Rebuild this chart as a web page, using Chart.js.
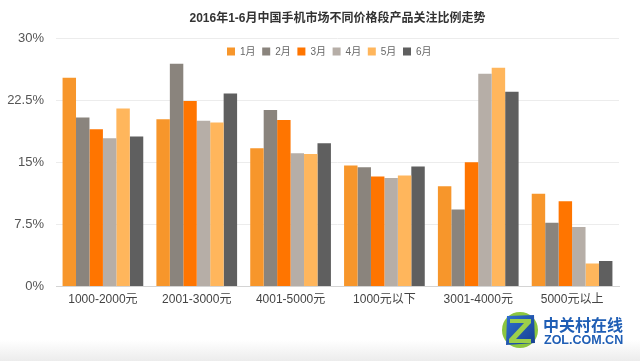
<!DOCTYPE html>
<html>
<head>
<meta charset="utf-8">
<script src="https://cdn.jsdelivr.net/npm/chart.js@4"></script>
<style>
html,body{margin:0;padding:0;background:#fff;}
#wrap{position:relative;width:640px;height:361px;overflow:hidden;
  background:linear-gradient(to bottom,#ffffff 0px,#ffffff 340px,#ececec 361px);}
canvas{position:absolute;left:0;top:0;}
#logoIcon{position:absolute;left:501px;top:311px;width:38px;height:38px;}
#logoCn{position:absolute;left:543px;top:312px;font:bold 16px "Noto Sans CJK SC",sans-serif;color:#1f5eb5;}
#logoEn{position:absolute;left:544px;top:333px;font:bold 12.5px "Liberation Sans",sans-serif;color:#1f5eb5;}
</style>
</head>
<body>
<div id="wrap">
<canvas id="c" width="640" height="361"></canvas>
<svg id="logoIcon" viewBox="0 0 38 38">
  <defs>
    <linearGradient id="bl" x1="0" y1="0" x2="1" y2="1">
      <stop offset="0" stop-color="#2f6fd0"/>
      <stop offset="1" stop-color="#163f8f"/>
    </linearGradient>
  </defs>
  <circle cx="19" cy="19" r="18" fill="#8cc63f"/>
  <polygon points="6,5 33,4 34,32 5,34" fill="url(#bl)"/>
  <polygon points="9,8 30,8 30,12 15,28 30,28 30,32 8,32 8,28 23,12 9,12" fill="#9ccf4a"/>
</svg>
<div id="logoCn">中关村在线</div>
<div id="logoEn">ZOL.COM.CN</div>
</div>
<script>
const categories = ["1000-2000元","2001-3000元","4001-5000元","1000元以下","3001-4000元","5000元以上"];
const seriesNames = ["1月","2月","3月","4月","5月","6月"];
const jan = [25.2, 20.2, 16.7, 14.6, 12.1, 11.2];
const feb = [20.4, 26.9, 21.3, 14.4, 9.3, 7.7];
const mar = [19.0, 22.4, 20.1, 13.3, 15.0, 10.3];
const apr = [17.9, 20.0, 16.1, 13.1, 25.7, 7.2];
const may = [21.5, 19.8, 16.0, 13.4, 26.4, 2.8];
const jun = [18.1, 23.3, 17.3, 14.5, 23.5, 3.1];
const yTicks = [0, 7.5, 15, 22.5, 30];
const titleText = "2016年1-6月中国手机市场不同价格段产品关注比例走势";

const colors = ["#f7962b","#8a847d","#ff7500","#b6aea7","#ffb65c","#5f5f5f"];
const values = [jan, feb, mar, apr, may, jun];

const FONT = '"Liberation Sans","Noto Sans CJK SC",sans-serif';

const overlayPlugin = {
  id: 'overlay',
  afterDraw(chart) {
    const ctx = chart.ctx;
    const ca = chart.chartArea;
    ctx.save();
    // title centred over the plot area
    ctx.font = 'bold 12px ' + FONT;
    ctx.fillStyle = '#333';
    ctx.textAlign = 'center';
    ctx.textBaseline = 'middle';
    ctx.fillText(titleText, (ca.left + ca.right) / 2, 18.5);
    // legend
    ctx.font = '10px ' + FONT;
    ctx.textAlign = 'left';
    chart.data.datasets.forEach((ds, i) => {
      const x = 227 + i * 35.2;
      ctx.fillStyle = ds.backgroundColor;
      ctx.fillRect(x, 47.5, 8, 8);
      ctx.fillStyle = '#666';
      ctx.fillText(ds.label, x + 13, 52);
    });
    ctx.restore();
  }
};

new Chart(document.getElementById('c'), {
  type: 'bar',
  data: {
    labels: categories,
    datasets: seriesNames.map((n, i) => ({
      label: n,
      data: values[i],
      backgroundColor: colors[i],
      borderWidth: 0,
      barPercentage: 1.0,
      categoryPercentage: 0.86
    }))
  },
  options: {
    responsive: false,
    animation: false,
    devicePixelRatio: 1,
    layout: { padding: { left: 0, right: 21, top: 38, bottom: 48 } },
    plugins: {
      legend: { display: false },
      tooltip: { enabled: false },
      title: { display: false }
    },
    scales: {
      x: {
        grid: { display: false, drawTicks: false },
        border: { display: true, color: '#d4d4d4' },
        ticks: { color: '#444', font: { family: FONT, size: 12 }, padding: 6, maxRotation: 0 }
      },
      y: {
        min: 0, max: 30,
        afterBuildTicks(scale) { scale.ticks = yTicks.map(v => ({ value: v })); },
        afterFit(scale) { scale.width = 56; },
        grid: { color: '#ececec', lineWidth: 1, drawTicks: false },
        border: { display: false },
        ticks: {
          color: '#555',
          font: { family: FONT, size: 13 },
          padding: 12,
          callback: v => v + '%'
        }
      }
    }
  },
  plugins: [overlayPlugin]
});
</script>
</body>
</html>
